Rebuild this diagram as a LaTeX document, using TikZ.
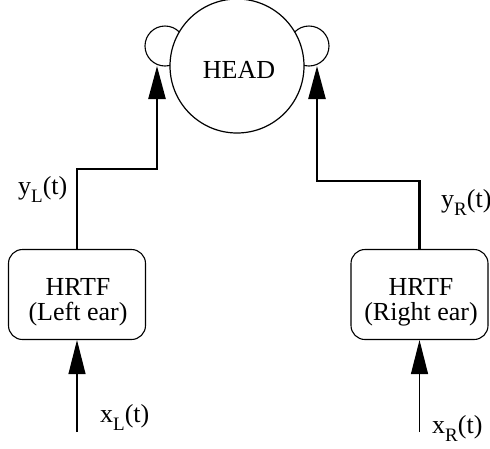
\documentclass[tikz,border=0pt]{standalone}
\usepackage{fontspec}
\setmainfont{Liberation Serif}
\usetikzlibrary{arrows.meta}
\newcommand\lowsub[1]{\raisebox{-0.33em}{\fontsize{19}{19}\selectfont #1}}
\begin{document}
\begin{tikzpicture}[x=1pt,y=-1pt,
  every node/.style={font=\fontsize{26}{25}\selectfont},
  hrtfbox/.style={draw, line width=1.1pt, rounded corners=14pt, minimum width=137pt, minimum height=90pt, inner sep=0pt},
  boxtext/.style={align=center, inner sep=0pt},
  outline/.style={line width=2.4pt, -{Triangle[length=33pt,width=17pt]}},
  inline/.style={line width=1.1pt, -{Triangle[length=34pt,width=17pt]}},
  lbl/.style={inner sep=0pt, anchor=base west},
  ear/.style={draw, circle, line width=1.1pt, minimum size=40pt, inner sep=0pt},
  headc/.style={draw, circle, fill=white, line width=1.2pt, minimum size=134pt, inner sep=0pt}]
\useasboundingbox (0,0) rectangle (490,448);
% ears and head
\node[ear] (earL) at (165,46) {};
\node[ear] (earR) at (309,46) {};
\node[headc] (head) at (237,66) {};
\node[inner sep=0pt] (headtxt) at (239,70) {HEAD};
% boxes
\node[hrtfbox] (Lbox) at (77,294.5) {};
\node[boxtext] (Ltxt) at (78,302) {HRTF\\(Left ear)};
\node[hrtfbox] (Rbox) at (419.5,294.5) {};
\node[boxtext] (Rtxt) at (421,302) {HRTF\\(Right ear)};
% coordinates
\coordinate (Lbend) at (157,169);
\coordinate (Ltip) at (157,66);
\coordinate (Rbend) at (317,181);
\coordinate (Rtip) at (317,66);
\coordinate (Lin) at (77,432);
\coordinate (Rin) at (419.5,432);
% connectors
\draw[outline] (Lbox.north) |- (Lbend) -- (Ltip);
\draw[outline] (Rbox.north) |- (Rbend) -- (Rtip);
\draw[inline] (Lin) -- (Lbox.south);
\draw[inline] (Rin) -- (Rbox.south);
% labels
\node[lbl] (yL) at (18,194) {y\lowsub{L}(t)};
\node[lbl] (yR) at (441,207) {y\lowsub{R}(t)};
\node[lbl] (xL) at (100,422) {x\lowsub{L}(t)};
\node[lbl] (xR) at (432,433) {x\lowsub{R}(t)};
\end{tikzpicture}
\end{document}
